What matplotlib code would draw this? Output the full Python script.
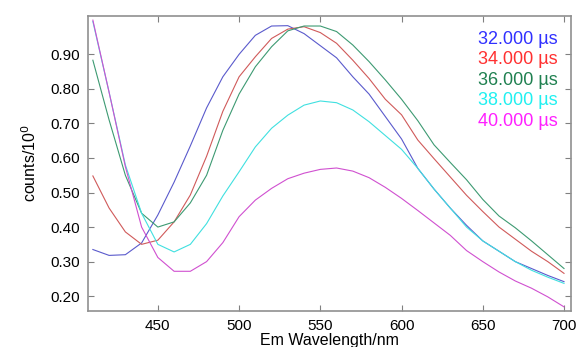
import matplotlib
matplotlib.use("Agg")
import matplotlib.pyplot as plt

plt.rcParams["font.family"] = ["Liberation Sans", "DejaVu Sans"]

wavelength = list(range(410, 701, 10))

labels = ["32.000 µs", "34.000 µs", "36.000 µs", "38.000 µs", "40.000 µs"]
line_colors = ["#5a5acc", "#d05a5a", "#3d9a72", "#40e0e0", "#d050d0"]
text_colors = ["#3030ff", "#ff3030", "#1f8050", "#20f0f0", "#ff20ff"]

s32 = [0.335, 0.318, 0.320, 0.354, 0.435, 0.530, 0.635, 0.745, 0.835, 0.900,
       0.955, 0.982, 0.983, 0.960, 0.925, 0.890, 0.835, 0.785, 0.720, 0.655,
       0.570, 0.510, 0.455, 0.405, 0.360, 0.330, 0.300, 0.280, 0.260, 0.242]
s34 = [0.548, 0.455, 0.386, 0.350, 0.362, 0.415, 0.493, 0.605, 0.735, 0.835,
       0.893, 0.946, 0.973, 0.980, 0.963, 0.932, 0.883, 0.830, 0.770, 0.725,
       0.652, 0.598, 0.545, 0.492, 0.445, 0.400, 0.365, 0.330, 0.300, 0.266]
s36 = [0.883, 0.710, 0.550, 0.440, 0.400, 0.415, 0.470, 0.550, 0.680, 0.785,
       0.864, 0.922, 0.968, 0.982, 0.982, 0.966, 0.927, 0.879, 0.826, 0.770,
       0.708, 0.638, 0.587, 0.537, 0.480, 0.432, 0.398, 0.360, 0.320, 0.280]
s38 = [0.995, 0.790, 0.580, 0.440, 0.350, 0.328, 0.350, 0.410, 0.490, 0.560,
       0.632, 0.686, 0.724, 0.753, 0.765, 0.760, 0.739, 0.705, 0.665, 0.625,
       0.570, 0.510, 0.455, 0.400, 0.360, 0.330, 0.300, 0.275, 0.255, 0.237]
s40 = [0.999, 0.790, 0.575, 0.400, 0.312, 0.272, 0.272, 0.300, 0.355, 0.430,
       0.478, 0.512, 0.540, 0.556, 0.567, 0.571, 0.562, 0.543, 0.515, 0.483,
       0.448, 0.412, 0.376, 0.332, 0.300, 0.270, 0.244, 0.223, 0.198, 0.169]
series = [s32, s34, s36, s38, s40]

yticks = [0.20, 0.30, 0.40, 0.50, 0.60, 0.70, 0.80, 0.90]
xticks = [450, 500, 550, 600, 650, 700]

fig = plt.figure(figsize=(5.77, 3.47), dpi=100)
ax = fig.add_axes([0.1525, 0.1037, 0.8371, 0.8502])

for vals, c in zip(series, line_colors):
    ax.plot(wavelength, vals, color=c, linewidth=0.8)

ax.set_xlim(407, 704.3)
ax.set_ylim(0.157, 1.011)
ax.set_xticks(xticks)
ax.set_yticks(yticks)
ax.set_yticklabels([f"{v:.2f}" for v in yticks])
ax.tick_params(direction="in", length=4, width=0.8, color="#808080",
               top=True, right=True, labelsize=11, pad=6)
for sp in ax.spines.values():
    sp.set_color("#909090")
    sp.set_linewidth(1.2)

ax.set_xlabel("Em Wavelength/nm", fontsize=11.5, labelpad=0)
ax.set_ylabel("counts/10$^0$", fontsize=11.5, labelpad=8)

for i, (lab, c) in enumerate(zip(labels, text_colors)):
    ax.text(0.972, 0.921 - i * 0.0695, lab, color=c, fontsize=13,
            ha="right", va="center", transform=ax.transAxes)

fig.savefig("out.png", dpi=100)
